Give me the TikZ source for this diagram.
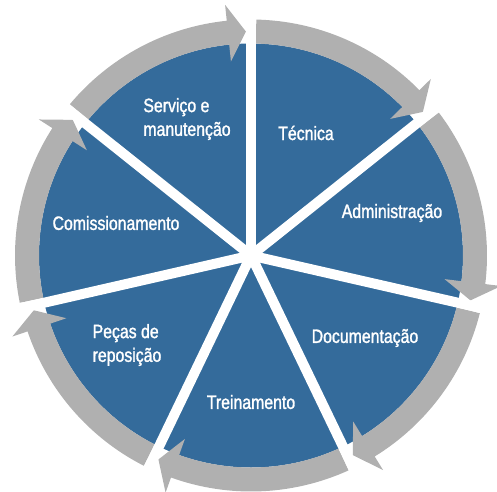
\documentclass[tikz,border=0pt]{standalone}
\usepackage{fontspec}
\setsansfont[FakeStretch=0.82,FakeBold=1.4]{Liberation Sans}
\renewcommand{\familydefault}{\sfdefault}
\usepackage{tikz}
\definecolor{cycleblue}{RGB}{52,107,155}
\definecolor{cyclegray}{RGB}{176,176,176}

\begin{document}
\begin{tikzpicture}[x=0.02cm,y=0.02cm,
  sectortext/.style={text=white,font=\fontsize{11}{13.5}\selectfont,align=left,inner sep=0pt},
  spoke/.style={white,line width=0.2cm}]
\useasboundingbox (-251,-235.5) rectangle (246,255.5);
\fill[cycleblue] (0,0) circle (212);
% grey arrows, clockwise
\foreach \k in {0,...,6} {
  \pgfmathsetmacro{\s}{90-\k*360/7}
  \pgfmathsetmacro{\e}{\s-360/7}
  \fill[cyclegray] ({\s-1.3}:236) arc[start angle=\s-1.3,end angle=\e+5.9,radius=236]
    -- ({\e+5.9}:252) -- ({\e+1.3}:224) -- ({\e+5.9}:195) -- ({\e+5.9}:212)
    arc[start angle=\e+5.9,end angle=\s-1.3,radius=212] -- cycle;
}
\coordinate (hub) at (0,0);
\foreach \k in {0,...,6}
  \draw[spoke] (hub) -- ({90-\k*360/7}:262);

\node[sectortext] (servico) at (-64,136.5) {Serviço e\\manutenção};
\node[sectortext] (tecnica) at (55,122.5) {Técnica};
\node[sectortext] (admin) at (141,42.5) {Administração};
\node[sectortext] (doc) at (114,-82.5) {Documentação};
\node[sectortext] (treino) at (0,-146.5) {Treinamento};
\node[sectortext] (pecas) at (-124,-89.5) {Peças de\\reposição};
\node[sectortext] (comiss) at (-135,32.5) {Comissionamento};
\end{tikzpicture}
\end{document}
